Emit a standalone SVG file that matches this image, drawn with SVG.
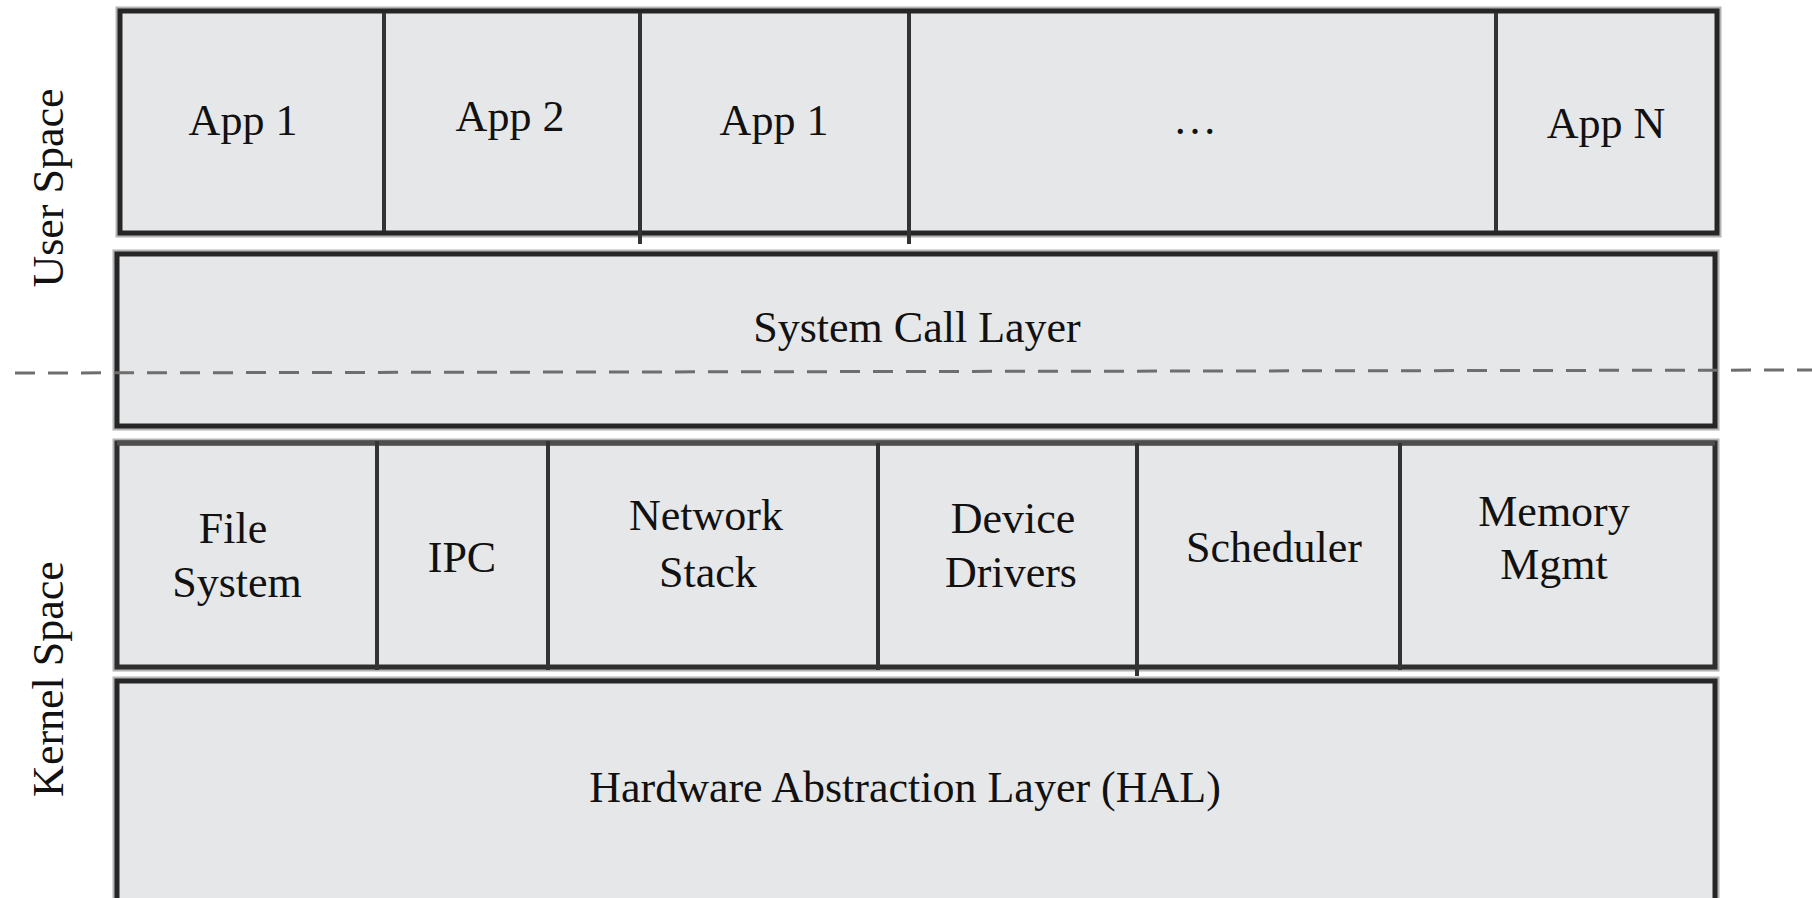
<svg xmlns="http://www.w3.org/2000/svg" width="1812" height="898" viewBox="0 0 1812 898">
  <style>
    .box { fill: #e6e7e8; stroke: #262626; stroke-width: 5; }
    .halo { fill: none; stroke: #b4b4b4; stroke-width: 9; }
    .div { stroke: #333333; stroke-width: 4; }
    .lbl { font-family: "Liberation Serif", "DejaVu Serif", serif; font-size: 44px; fill: #111111; text-anchor: middle; }
    .side { font-family: "Liberation Serif", "DejaVu Serif", serif; font-size: 44px; fill: #111111; text-anchor: middle; }
    .boundary { fill: none; stroke: #6e6e6e; stroke-width: 3; stroke-dasharray: 20 13; }
  </style>
  <rect width="1812" height="898" fill="#ffffff"/>

  <!-- side captions -->
  <g id="user-space-label">
    <text class="side" transform="translate(63 188) rotate(-90)">User Space</text>
  </g>
  <g id="kernel-space-label">
    <text class="side" transform="translate(63 679) rotate(-90)">Kernel Space</text>
  </g>

  <!-- application row -->
  <g id="app-row">
    <rect class="halo" x="120" y="11" width="1597" height="222"/>
    <rect class="box" x="120" y="11" width="1597" height="222"/>
    <line class="div" x1="384" y1="13" x2="384" y2="231"/>
    <line class="div" x1="640" y1="13" x2="640" y2="244"/>
    <line class="div" x1="909" y1="13" x2="909" y2="244"/>
    <line class="div" x1="1496" y1="13" x2="1496" y2="231"/>
  </g>
  <g id="app1"><text class="lbl" x="243" y="135">App 1</text></g>
  <g id="app2"><text class="lbl" x="510" y="131">App 2</text></g>
  <g id="app1b"><text class="lbl" x="774" y="135">App 1</text></g>
  <g id="app-more"><text class="lbl" x="1195" y="134">…</text></g>
  <g id="appN"><text class="lbl" x="1606" y="138">App N</text></g>

  <!-- system call layer -->
  <g id="syscall">
    <rect class="halo" x="117" y="254" width="1598" height="172"/>
    <rect class="box" x="117" y="254" width="1598" height="172"/>
    <text class="lbl" x="917" y="342">System Call Layer</text>
  </g>

  <!-- kernel subsystem row -->
  <g id="kernel-row">
    <rect class="halo" x="117" y="443" width="1598" height="224"/>
    <rect class="box" x="117" y="443" width="1598" height="224" style="stroke:#2e2e2e"/>
    <line x1="117" y1="443" x2="1715" y2="443" stroke="#4e4e4e" stroke-width="5"/>
    <line class="div" x1="377" y1="441" x2="377" y2="670"/>
    <line class="div" x1="548" y1="441" x2="548" y2="670"/>
    <line class="div" x1="878" y1="443" x2="878" y2="670"/>
    <line class="div" x1="1137" y1="443" x2="1137" y2="676"/>
    <line class="div" x1="1400" y1="443" x2="1400" y2="670"/>
  </g>
  <g id="filesystem">
    <text class="lbl" x="233" y="543">File</text>
    <text class="lbl" x="237" y="597">System</text>
  </g>
  <g id="ipc"><text class="lbl" x="462" y="572">IPC</text></g>
  <g id="network">
    <text class="lbl" x="706" y="530">Network</text>
    <text class="lbl" x="708" y="587">Stack</text>
  </g>
  <g id="drivers">
    <text class="lbl" x="1013" y="533">Device</text>
    <text class="lbl" x="1011" y="587">Drivers</text>
  </g>
  <g id="scheduler"><text class="lbl" x="1274" y="562">Scheduler</text></g>
  <g id="memory">
    <text class="lbl" x="1554" y="526">Memory</text>
    <text class="lbl" x="1554" y="579">Mgmt</text>
  </g>

  <!-- hardware abstraction layer (runs past the bottom edge) -->
  <g id="hal">
    <rect class="halo" x="117" y="681" width="1598" height="260"/>
    <rect class="box" x="117" y="681" width="1598" height="260"/>
    <text class="lbl" x="905" y="802">Hardware Abstraction Layer (HAL)</text>
  </g>

  <!-- user/kernel boundary -->
  <g id="connectors">
    <line class="boundary" x1="15" y1="373" x2="1812" y2="370"/>
  </g>
</svg>
